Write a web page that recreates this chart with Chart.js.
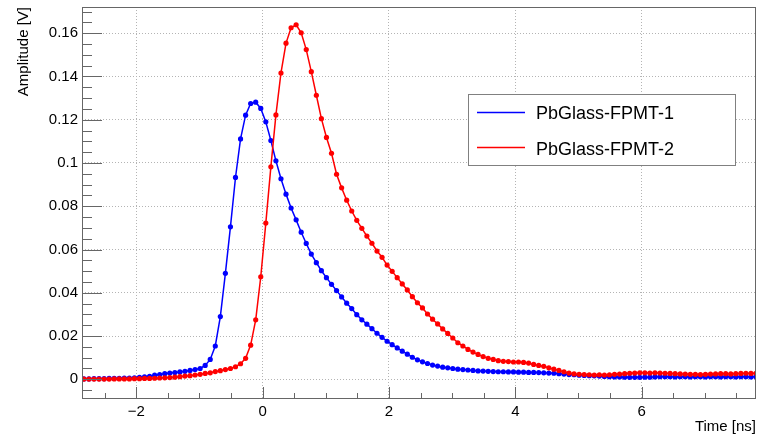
<!DOCTYPE html>
<html>
<head>
<meta charset="utf-8">
<script src="https://cdn.jsdelivr.net/npm/chart.js@4/dist/chart.umd.min.js"></script>
<style>
  html, body { margin: 0; padding: 0; background: #ffffff; }
  canvas { display: block; }
</style>
</head>
<body>
<canvas id="c" width="759" height="436"></canvas>
<script>
// Sample times [ns]
const times = [
  -2.83, -2.75, -2.67, -2.59, -2.51, -2.43, -2.35, -2.27, -2.19, -2.11,
  -2.03, -1.95, -1.87, -1.79, -1.71, -1.63, -1.55, -1.47, -1.39, -1.31,
  -1.23, -1.15, -1.07, -0.99, -0.91, -0.83, -0.75, -0.67, -0.59, -0.51,
  -0.43, -0.35, -0.27, -0.19, -0.11, -0.03, 0.05, 0.13, 0.21, 0.29,
  0.37, 0.45, 0.53, 0.61, 0.69, 0.77, 0.85, 0.93, 1.01, 1.09,
  1.17, 1.25, 1.33, 1.41, 1.49, 1.57, 1.65, 1.73, 1.81, 1.89,
  1.97, 2.05, 2.13, 2.21, 2.29, 2.37, 2.45, 2.53, 2.61, 2.69,
  2.77, 2.85, 2.93, 3.01, 3.09, 3.17, 3.25, 3.33, 3.41, 3.49,
  3.57, 3.65, 3.73, 3.81, 3.89, 3.97, 4.05, 4.13, 4.21, 4.29,
  4.37, 4.45, 4.53, 4.61, 4.69, 4.77, 4.85, 4.93, 5.01, 5.09,
  5.17, 5.25, 5.33, 5.41, 5.49, 5.57, 5.65, 5.73, 5.81, 5.89,
  5.97, 6.05, 6.13, 6.21, 6.29, 6.37, 6.45, 6.53, 6.61, 6.69,
  6.77, 6.85, 6.93, 7.01, 7.09, 7.17, 7.25, 7.33, 7.41, 7.49,
  7.57, 7.65, 7.73, 7.81
];

// Amplitude [V], PbGlass-FPMT-1
const fpmt1 = [
  0.0002, 0.0002, 0.0003, 0.0003, 0.0003, 0.0004, 0.0004, 0.0005, 0.0006, 0.0006,
  0.0007, 0.0009, 0.0011, 0.0014, 0.0019, 0.0022, 0.0026, 0.0029, 0.0031, 0.0034,
  0.0037, 0.0041, 0.0045, 0.0050, 0.0064, 0.0092, 0.0154, 0.0290, 0.0490, 0.0705,
  0.0933, 0.1111, 0.1221, 0.1275, 0.1281, 0.1252, 0.1190, 0.1104, 0.1010, 0.0927,
  0.0856, 0.0792, 0.0737, 0.0680, 0.0628, 0.0579, 0.0539, 0.0502, 0.0470, 0.0439,
  0.0410, 0.0381, 0.0352, 0.0327, 0.0299, 0.0275, 0.0255, 0.0234, 0.0213, 0.0194,
  0.0176, 0.0160, 0.0145, 0.0130, 0.0116, 0.0102, 0.0090, 0.0081, 0.0073, 0.0066,
  0.0061, 0.0056, 0.0053, 0.0050, 0.0047, 0.0045, 0.0043, 0.0041, 0.0039, 0.0038,
  0.0037, 0.0036, 0.0035, 0.0035, 0.0034, 0.0034, 0.0033, 0.0033, 0.0032, 0.0032,
  0.0031, 0.0030, 0.0029, 0.0028, 0.0026, 0.0024, 0.0022, 0.0021, 0.0019, 0.0018,
  0.0017, 0.0016, 0.0015, 0.0013, 0.0012, 0.0011, 0.0011, 0.0010, 0.0009, 0.0009,
  0.0009, 0.0010, 0.0010, 0.0011, 0.0012, 0.0012, 0.0012, 0.0011, 0.0012, 0.0012,
  0.0011, 0.0012, 0.0012, 0.0011, 0.0012, 0.0012, 0.0011, 0.0012, 0.0012, 0.0011,
  0.0012, 0.0012, 0.0011, 0.0012
];

// Amplitude [V], PbGlass-FPMT-2
const fpmt2 = [
  0.0001, 0.0001, 0.0001, 0.0001, 0.0001, 0.0001, 0.0002, 0.0002, 0.0002, 0.0002,
  0.0003, 0.0003, 0.0004, 0.0004, 0.0005, 0.0006, 0.0007, 0.0008, 0.0010, 0.0012,
  0.0015, 0.0017, 0.0020, 0.0023, 0.0027, 0.0030, 0.0036, 0.0040, 0.0045, 0.0050,
  0.0058, 0.0072, 0.0097, 0.0158, 0.0275, 0.0474, 0.0722, 0.0982, 0.1222, 0.1416,
  0.1554, 0.1625, 0.1639, 0.1602, 0.1524, 0.1422, 0.1313, 0.1205, 0.1118, 0.1045,
  0.0948, 0.0885, 0.0828, 0.0778, 0.0735, 0.0698, 0.0662, 0.0629, 0.0593, 0.0564,
  0.0528, 0.0499, 0.0470, 0.0441, 0.0413, 0.0382, 0.0354, 0.0330, 0.0302, 0.0278,
  0.0256, 0.0233, 0.0212, 0.0191, 0.0169, 0.0154, 0.0138, 0.0126, 0.0115, 0.0105,
  0.0097, 0.0092, 0.0086, 0.0083, 0.0082, 0.0080, 0.0080, 0.0078, 0.0075, 0.0069,
  0.0064, 0.0060, 0.0053, 0.0047, 0.0041, 0.0035, 0.0029, 0.0025, 0.0023, 0.0022,
  0.0021, 0.0020, 0.0021, 0.0020, 0.0021, 0.0023, 0.0024, 0.0026, 0.0028, 0.0029,
  0.0030, 0.0030, 0.0029, 0.0030, 0.0029, 0.0028, 0.0027, 0.0026, 0.0025, 0.0024,
  0.0023, 0.0023, 0.0022, 0.0023, 0.0024, 0.0025, 0.0026, 0.0026, 0.0025, 0.0026,
  0.0027, 0.0028, 0.0027, 0.0028
];

const seriesNames = ['PbGlass-FPMT-1', 'PbGlass-FPMT-2'];

// Axis ticks and their labels
const xTicks = [-2, 0, 2, 4, 6];
const xTickLabels = ['\u22122', '0', '2', '4', '6'];
const yTicks = [0, 0.02, 0.04, 0.06, 0.08, 0.1, 0.12, 0.14, 0.16];
const yTickLabels = ['0', '0.02', '0.04', '0.06', '0.08', '0.1', '0.12', '0.14', '0.16'];

const X_RANGE = [-2.86, 7.81];
const Y_RANGE = [-0.0091, 0.1721];

const FONT = "'Liberation Sans', Arial, Helvetica, sans-serif";
const FRAME_COLOR = '#666666';

const toPoints = (ys) => times.map((t, i) => ({ x: t, y: ys[i] }));

// ROOT-style inward tick marks, plot frame and legend box
const frameAndTicks = {
  id: 'frameAndTicks',
  afterDatasetsDraw(chart) {
    const { ctx, chartArea: a, scales: { x, y } } = chart;
    ctx.save();
    ctx.strokeStyle = FRAME_COLOR;
    ctx.lineWidth = 1;
    ctx.beginPath();
    // x axis: major every 2 ns, minor every 0.5 ns
    for (let k = Math.ceil(X_RANGE[0] / 0.5); k * 0.5 <= X_RANGE[1]; k++) {
      const v = k * 0.5;
      const px = Math.round(x.getPixelForValue(v)) + 0.5;
      const len = (k % 4 === 0) ? 12 : 6;
      ctx.moveTo(px, a.bottom);
      ctx.lineTo(px, a.bottom - len);
    }
    // y axis: major every 0.02 V, minor every 0.005 V
    for (let k = Math.ceil(Y_RANGE[0] / 0.005); k * 0.005 <= Y_RANGE[1]; k++) {
      const v = k * 0.005;
      const py = Math.round(y.getPixelForValue(v)) + 0.5;
      const len = (k % 4 === 0) ? 20 : 10;
      ctx.moveTo(a.left, py);
      ctx.lineTo(a.left + len, py);
    }
    ctx.stroke();
    // frame
    ctx.strokeRect(Math.round(a.left) + 0.5, Math.round(a.top) + 0.5,
                   Math.round(a.right - a.left) - 1, Math.round(a.bottom - a.top) - 1);

    // legend
    const lx = 468.5, ly = 94.5, lw = 267, lh = 71;
    ctx.fillStyle = '#ffffff';
    ctx.fillRect(lx, ly, lw, lh);
    ctx.strokeStyle = '#808080';
    ctx.strokeRect(lx, ly, lw, lh);
    const rows = [
      { color: '#0000ff', y: 112.5, base: 119 },
      { color: '#ff0000', y: 147.5, base: 154.5 }
    ];
    ctx.font = '18px ' + FONT;
    ctx.textAlign = 'left';
    ctx.textBaseline = 'alphabetic';
    rows.forEach((r, i) => {
      ctx.strokeStyle = r.color;
      ctx.lineWidth = 1.5;
      ctx.beginPath();
      ctx.moveTo(477, r.y);
      ctx.lineTo(525, r.y);
      ctx.stroke();
      ctx.fillStyle = '#000000';
      ctx.fillText(seriesNames[i], 536, r.base);
    });
    ctx.restore();
  }
};

new Chart(document.getElementById('c'), {
  type: 'line',
  data: {
    datasets: [
      {
        label: seriesNames[0],
        data: toPoints(fpmt1),
        borderColor: '#0000ff',
        backgroundColor: '#0000ff',
        borderWidth: 1.5,
        pointRadius: 2.6,
        pointBorderWidth: 0,
        pointHoverRadius: 2.6,
        tension: 0,
        order: 1,
        clip: 0
      },
      {
        label: seriesNames[1],
        data: toPoints(fpmt2),
        borderColor: '#ff0000',
        backgroundColor: '#ff0000',
        borderWidth: 1.5,
        pointRadius: 2.6,
        pointBorderWidth: 0,
        pointHoverRadius: 2.6,
        tension: 0,
        order: 0,
        clip: 0
      }
    ]
  },
  options: {
    responsive: false,
    animation: false,
    events: [],
    layout: { padding: { left: 0, top: 7, right: 3, bottom: 0 } },
    plugins: { legend: { display: false }, tooltip: { enabled: false } },
    scales: {
      x: {
        type: 'linear',
        min: X_RANGE[0],
        max: X_RANGE[1],
        afterBuildTicks: (s) => { s.ticks = xTicks.map(v => ({ value: v })); },
        afterFit: (s) => {
          s.height = 37;
          s.paddingLeft = 0; s.paddingRight = 0; s.paddingTop = 0; s.paddingBottom = 0;
        },
        ticks: {
          autoSkip: false,
          maxRotation: 0,
          padding: 4,
          color: '#000000',
          font: { family: FONT, size: 15 },
          callback: (v) => { const i = xTicks.indexOf(v); return i >= 0 ? xTickLabels[i] : ''; }
        },
        grid: { color: '#b4b4b4', lineWidth: 1, drawTicks: false },
        border: { display: false, dash: [1, 2] },
        title: {
          display: true,
          text: 'Time [ns]',
          align: 'end',
          color: '#000000',
          font: { family: FONT, size: 15 },
          padding: { top: 0, bottom: 0 }
        }
      },
      y: {
        type: 'linear',
        min: Y_RANGE[0],
        max: Y_RANGE[1],
        afterBuildTicks: (s) => { s.ticks = yTicks.map(v => ({ value: v })); },
        afterFit: (s) => {
          s.width = 82;
          s.paddingLeft = 0; s.paddingRight = 0; s.paddingTop = 0; s.paddingBottom = 0;
        },
        ticks: {
          autoSkip: false,
          padding: 4,
          color: '#000000',
          font: { family: FONT, size: 15 },
          callback: (v) => {
            const i = yTicks.findIndex(t => Math.abs(t - v) < 1e-9);
            return i >= 0 ? yTickLabels[i] : '';
          }
        },
        grid: { color: '#b4b4b4', lineWidth: 1, drawTicks: false },
        border: { display: false, dash: [1, 2] },
        title: {
          display: true,
          text: 'Amplitude [V]',
          align: 'end',
          color: '#000000',
          font: { family: FONT, size: 15 },
          padding: { top: 15, bottom: 0 }
        }
      }
    }
  },
  plugins: [frameAndTicks]
});
</script>
</body>
</html>
